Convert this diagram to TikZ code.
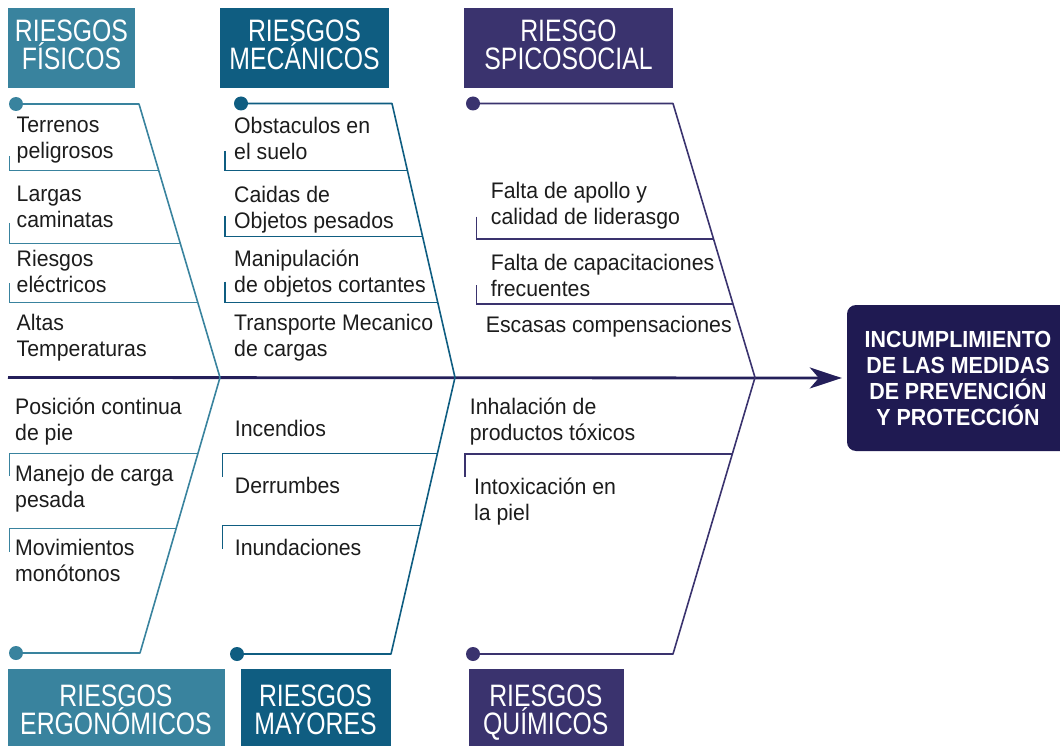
\documentclass[tikz,border=0pt]{standalone}
\usepackage{fontspec}
\setmainfont{Liberation Sans}
\newfontfamily\headfont[FakeStretch=0.80]{Liberation Sans}
\newfontfamily\bodyfont[FakeStretch=0.945]{Liberation Sans}
\newfontfamily\efffont[FakeStretch=0.92]{Liberation Sans}
\usetikzlibrary{arrows.meta}
\definecolor{cFis}{RGB}{57,131,158}
\definecolor{cMec}{RGB}{15,93,129}
\definecolor{cPsi}{RGB}{58,51,110}
\definecolor{cEff}{RGB}{31,26,82}
\definecolor{cSpine}{RGB}{36,31,90}
\definecolor{cText}{RGB}{28,28,28}
\newcommand\fs{\rule{0pt}{22pt}}
\newcommand\hs{\rule{0pt}{26pt}}
\begin{document}
\begin{tikzpicture}[x=1pt,y=-1pt,
  body/.style={font=\bodyfont\fontsize{22.5}{25.8}\selectfont, text=cText, align=left, inner sep=0pt, anchor=north west},
  head/.style={font=\headfont\fontsize{31}{28}\selectfont, text=white, align=center, inner sep=0pt, anchor=north},
  hbox/.style={fill=#1, draw=none, inner sep=0pt, anchor=north west},
  dot/.style={circle, fill=#1, draw=none, inner sep=0pt, minimum size=14pt},
  bone/.style={draw=#1, line width=1.6pt, line join=round},
  sub/.style={draw=#1, line width=1.3pt},
  spine/.style={draw=cSpine, line width=2.8pt},
  effbox/.style={fill=cEff, rounded corners=9pt, inner sep=0pt, minimum width=222pt, minimum height=146pt, align=center, text=white, font=\efffont\bfseries\fontsize{23.3}{26}\selectfont},
]
\useasboundingbox (0,0) rectangle (1060,746);
\clip (0,0) rectangle (1060,746);

% header boxes
\node[hbox=cFis, minimum width=127pt, minimum height=80pt] (hF) at (8,7.5) {};
\node[hbox=cMec, minimum width=169pt, minimum height=80pt] (hM) at (220,7.5) {};
\node[hbox=cPsi, minimum width=209pt, minimum height=80pt] (hP) at (464,7.5) {};
\node[hbox=cFis, minimum width=217pt, minimum height=82pt] (hE) at (7.5,669) {};
\node[hbox=cMec, minimum width=150pt, minimum height=82pt] (hY) at (240.5,669) {};
\node[hbox=cPsi, minimum width=155pt, minimum height=82pt] (hQ) at (468.3,669) {};

\node[head] (tF) at (71.5,15.5) {\hs RIESGOS\\FÍSICOS};
\node[head] (tM) at (304.5,15.5) {\hs RIESGOS\\MECÁNICOS};
\node[head] (tP) at (568.5,15.5) {\hs RIESGO\\SPICOSOCIAL};
\node[head] (tE) at (116,680.5) {\hs RIESGOS\\ERGONÓMICOS};
\node[head] (tY) at (315.5,680.5) {\hs RIESGOS\\MAYORES};
\node[head] (tQ) at (545.8,680.5) {\hs RIESGOS\\QUÍMICOS};

% effect
\node[effbox] (eff) at (958,378) {INCUMPLIMIENTO\\DE LAS MEDIDAS\\DE PREVENCIÓN\\Y PROTECCIÓN};

% spine
\coordinate (s0) at (8,377.5);
\coordinate (jF) at (220,377.5);
\coordinate (jM) at (455,377.5);
\coordinate (jP) at (755,377.5);
\draw[spine, -{Stealth[length=32pt,width=21pt,inset=9pt]}, shorten >=5pt] (s0) -- (eff.west);

% bones: dots and corners
\node[dot=cFis] (dF) at (16,104) {};
\coordinate (kF) at (139,104);
\node[dot=cMec] (dM) at (241,103.5) {};
\coordinate (kM) at (392,103.5);
\node[dot=cPsi] (dP) at (473,103.5) {};
\coordinate (kP) at (673,103.5);
\node[dot=cFis] (dE) at (16,653) {};
\coordinate (kE) at (140,653);
\node[dot=cMec] (dY) at (237,654) {};
\coordinate (kY) at (391,654);
\node[dot=cPsi] (dQ) at (473,654) {};
\coordinate (kQ) at (673,654);

\draw[bone=cFis] (dF) -- (kF) -- (jF);
\draw[bone=cMec] (dM) -- (kM) -- (jM);
\draw[bone=cPsi] (dP) -- (kP) -- (jP);
\draw[bone=cFis] (jF) -- (kE) -- (dE);
\draw[bone=cMec] (jM) -- (kY) -- (dY);
\draw[bone=cPsi] (jP) -- (kQ) -- (dQ);

% sub branches
\draw[sub=cFis] (9.3,156) |- (158.8,170.7);
\draw[sub=cFis] (9.3,223) |- (180.3,243.3);
\draw[sub=cFis] (9.3,283) |- (197.7,302.3);
\draw[sub=cMec] (225,151) |- (407.4,170.7);
\draw[sub=cMec] (225,216) |- (422.6,236.7);
\draw[sub=cMec] (225,281.7) |- (437.7,302.3);
\draw[sub=cPsi] (476.7,216.7) |- (713.6,239);
\draw[sub=cPsi] (476.7,285) |- (733.0,304);
\draw[sub=cFis] (9.3,476) |- (198.0,453.3);
\draw[sub=cFis] (9.3,551.7) |- (176.2,528.3);
\draw[sub=cMec] (222.3,476.7) |- (437.5,453.3);
\draw[sub=cMec] (222.3,549) |- (420.8,525.3);
\draw[sub=cPsi] (465,476.7) |- (732.3,454);

% texts
\node[body] (f1) at (16.5,110.7) {\fs Terrenos\\peligrosos};
\node[body] (f2) at (16.5,179.7) {\fs Largas\\caminatas};
\node[body] (f3) at (16.5,244) {\fs Riesgos\\eléctricos};
\node[body] (f4) at (16.5,308) {\fs Altas\\Temperaturas};
\node[body] (m1) at (234,111.3) {\fs Obstaculos en\\el suelo};
\node[body] (m2) at (234,180.7) {\fs Caidas de\\Objetos pesados};
\node[body] (m3) at (234,244.7) {\fs Manipulación\\de objetos cortantes};
\node[body] (m4) at (234,308.7) {\fs Transporte Mecanico\\de cargas};
\node[body] (p1) at (490.7,176.3) {\fs Falta de apollo y\\calidad de liderasgo};
\node[body] (p2) at (490.7,248) {\fs Falta de capacitaciones\\frecuentes};
\node[body] (p3) at (485.7,310.7) {\fs Escasas compensaciones};
\node[body] (e1) at (15,392.3) {\fs Posición continua\\de pie};
\node[body] (e2) at (15,459.7) {\fs Manejo de carga\\pesada};
\node[body] (e3) at (15,533) {\fs Movimientos\\monótonos};
\node[body] (y1) at (234.7,414.7) {\fs Incendios};
\node[body] (y2) at (234.7,471.3) {\fs Derrumbes};
\node[body] (y3) at (234.7,533) {\fs Inundaciones};
\node[body] (q1) at (469.7,392.3) {\fs Inhalación de\\productos tóxicos};
\node[body] (q2) at (474,472) {\fs Intoxicación en\\la piel};
\end{tikzpicture}
\end{document}
